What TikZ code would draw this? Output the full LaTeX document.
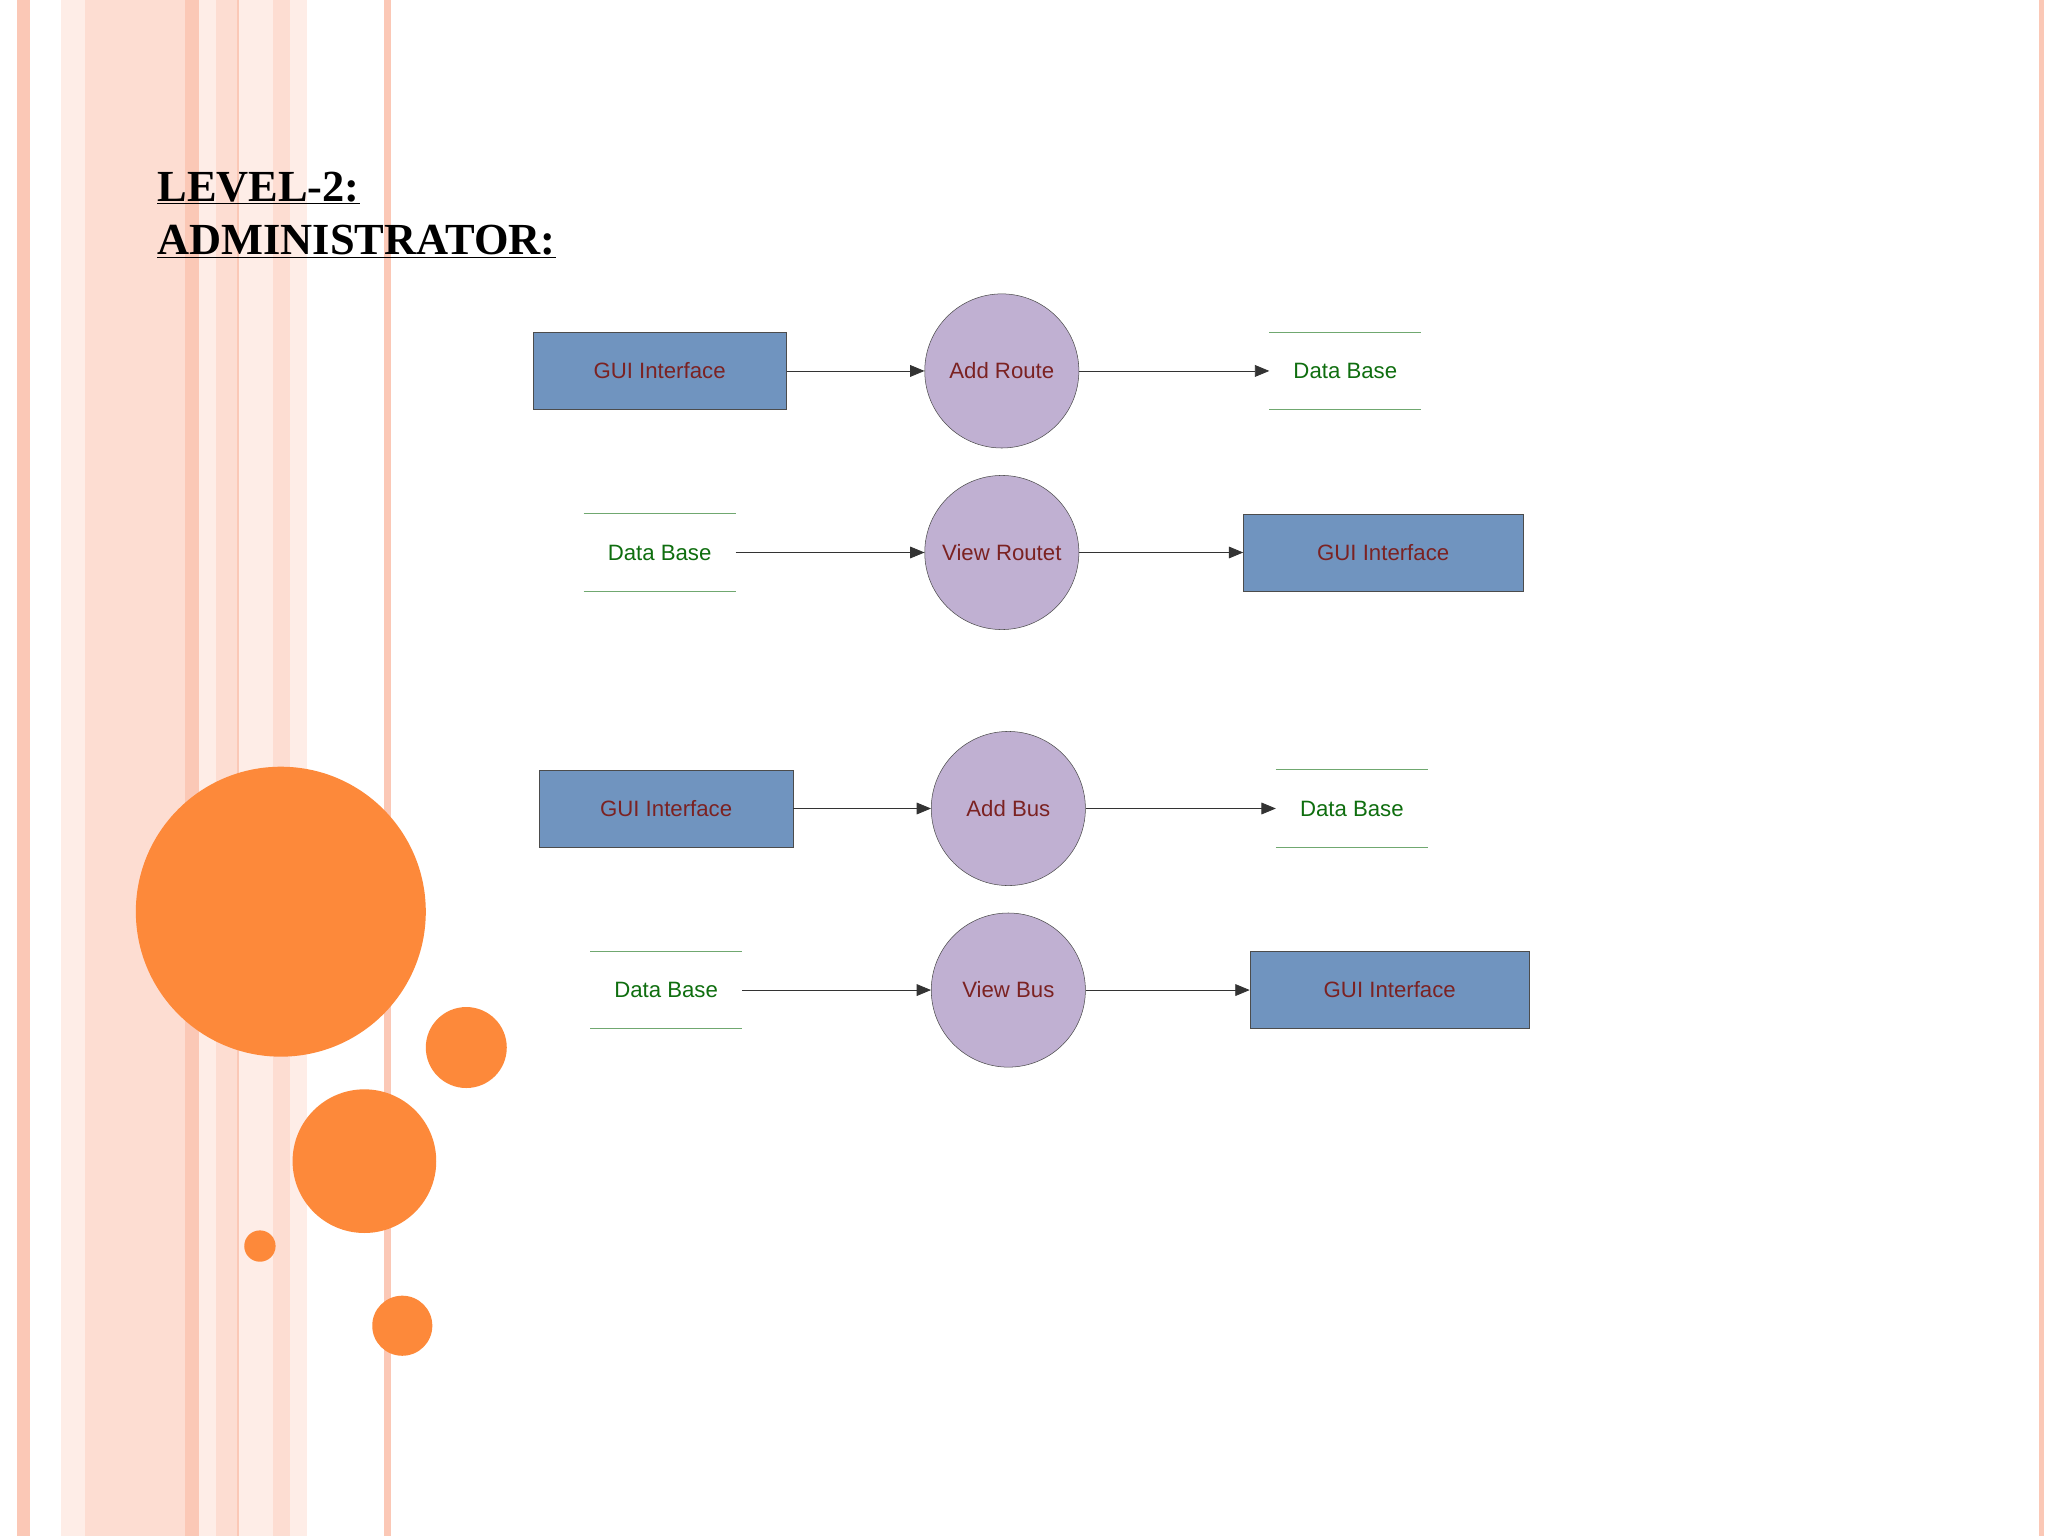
\documentclass[tikz,border=0pt]{standalone}
\usepackage{fontspec}
\setmainfont{Liberation Sans}
\newfontfamily\titlefont{Liberation Serif}
\usetikzlibrary{arrows.meta}
\definecolor{boxblue}{HTML}{7094BF}
\definecolor{circ}{HTML}{C0B0D2}
\definecolor{txtred}{HTML}{7B2222}
\definecolor{txtgreen}{HTML}{0F6E0F}
\definecolor{dbline}{HTML}{70A870}
\definecolor{orng}{HTML}{FD893A}
\definecolor{pk1}{HTML}{FDDDD2}
\definecolor{pk2}{HTML}{FBC8B6}
\definecolor{pk3}{HTML}{FEEDE7}
\tikzset{
 gui/.style={draw=black!70,fill=boxblue,minimum height=59pt,text=txtred,font=\fontsize{17}{20}\selectfont},
 proc/.style={circle,draw=black!70,fill=circ,minimum size=118pt,inner sep=0pt,text=txtred,font=\fontsize{17}{20}\selectfont},
 db/.style={minimum width=116pt,minimum height=59pt,text=txtgreen,font=\fontsize{17}{20}\selectfont},
 dbl/.style={draw=dbline,line width=0.8pt},
 flow/.style={draw=black!80,line width=0.6pt,-{Triangle[length=11pt,width=9pt]}},
 dot/.style={circle,fill=orng,inner sep=0pt}
}
\begin{document}
\begin{tikzpicture}[x=1pt,y=-1pt]
\useasboundingbox (0,0) rectangle (1568,1176);
\fill[white!97!green!2] (0,0) rectangle (1568,1176);
% stripes
\fill[pk2] (13,0) rectangle (23,1176);
\fill[pk3] (47,0) rectangle (65,1176);
\fill[pk1] (65,0) rectangle (142,1176);
\fill[pk2] (142,0) rectangle (152,1176);
\fill[pk3] (152,0) rectangle (165,1176);
\fill[pk1] (165,0) rectangle (182,1176);
\fill[pk2] (181.5,0) rectangle (183,1176);
\fill[pk3] (183,0) rectangle (209,1176);
\fill[pk1] (209,0) rectangle (222,1176);
\fill[pk3] (222,0) rectangle (235,1176);
\fill[pk2] (294,0) rectangle (299,1176);
\fill[pk2] (1561,0) rectangle (1565,1176);
% title
\node[anchor=north west,align=left,font=\titlefont\bfseries\fontsize{34}{41}\selectfont] (title) at (117,128)
 {\underline{LEVEL-2:}\\\underline{ADMINISTRATOR:}};
% orange dots
\node[dot,minimum size=222pt] (o1) at (215,698) {};
\node[dot,minimum size=62pt] (o2) at (357,802) {};
\node[dot,minimum size=110pt] (o3) at (279,889) {};
\node[dot,minimum size=24pt] (o4) at (199,954) {};
\node[dot,minimum size=46pt] (o5) at (308,1015) {};
% row 1
\node[gui,minimum width=194pt] (g1) at (505,284) {GUI Interface};
\node[proc] (p1) at (767,284) {Add Route};
\node[db] (d1) at (1030,284) {Data Base};
\draw[dbl] (d1.north west)--(d1.north east) (d1.south west)--(d1.south east);
\draw[flow] (g1)--(p1); \draw[flow] (p1)--(d1);
% row 2
\node[db] (d2) at (505,423) {Data Base};
\draw[dbl] (d2.north west)--(d2.north east) (d2.south west)--(d2.south east);
\node[proc] (p2) at (767,423) {View Routet};
\node[gui,minimum width=214pt] (g2) at (1059,423) {GUI Interface};
\draw[flow] (d2)--(p2); \draw[flow] (p2)--(g2);
% row 3
\node[gui,minimum width=194pt] (g3) at (510,619) {GUI Interface};
\node[proc] (p3) at (772,619) {Add Bus};
\node[db] (d3) at (1035,619) {Data Base};
\draw[dbl] (d3.north west)--(d3.north east) (d3.south west)--(d3.south east);
\draw[flow] (g3)--(p3); \draw[flow] (p3)--(d3);
% row 4
\node[db] (d4) at (510,758) {Data Base};
\draw[dbl] (d4.north west)--(d4.north east) (d4.south west)--(d4.south east);
\node[proc] (p4) at (772,758) {View Bus};
\node[gui,minimum width=214pt] (g4) at (1064,758) {GUI Interface};
\draw[flow] (d4)--(p4); \draw[flow] (p4)--(g4);
\end{tikzpicture}
\end{document}
